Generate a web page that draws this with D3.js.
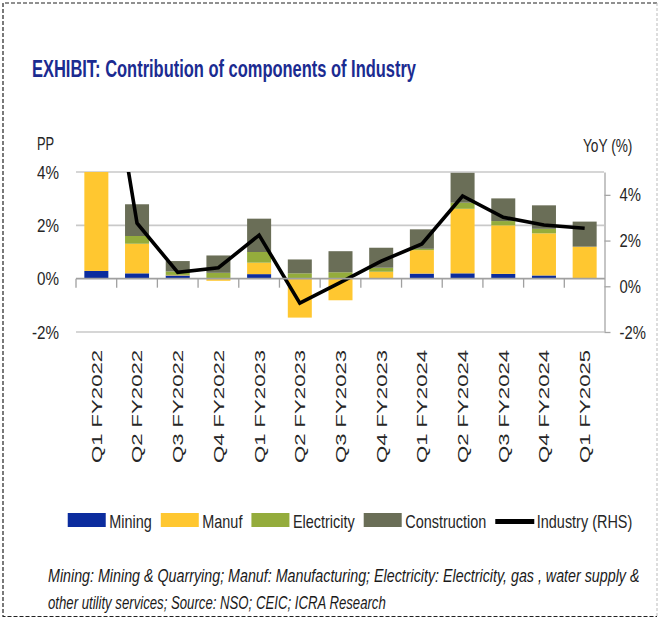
<!DOCTYPE html>
<html>
<head>
<meta charset="utf-8">
<script src="https://cdn.jsdelivr.net/npm/d3@7/dist/d3.min.js"></script>
<style>
  body { margin: 0; background: #fff; }
  svg text { font-family: "Liberation Sans", Arial, sans-serif; fill: #262626; }
</style>
</head>
<body>
<div id="chart"></div>
<script>

// data (pp contribution, left axis; industry YoY, right axis)
var quarters = ["Q1 FY2022", "Q2 FY2022", "Q3 FY2022", "Q4 FY2022", "Q1 FY2023", "Q2 FY2023", "Q3 FY2023",
    "Q4 FY2023", "Q1 FY2024", "Q2 FY2024", "Q3 FY2024", "Q4 FY2024", "Q1 FY2025"];
var mining       = [0.29, 0.20, 0.12, 0.00, 0.17, 0.00, 0.00, 0.02, 0.19, 0.20, 0.18, 0.12, 0.00];
var manuf        = [9.00, 1.11, 0.02, -0.08, 0.43, -1.46, -0.81, 0.24, 0.88, 2.42, 1.82, 1.58, 1.20];
var electricity  = [0.60, 0.29, 0.13, 0.22, 0.40, 0.20, 0.24, 0.15, 0.05, 0.23, 0.16, 0.17, 0.00];
var construction = [3.60, 1.19, 0.39, 0.65, 1.25, 0.52, 0.79, 0.75, 0.73, 1.12, 0.85, 0.88, 0.94];
var industry     = [13.5, 2.76, 0.61, 0.81, 2.24, -0.74, 0.17, 1.10, 1.85, 3.95, 3.02, 2.68, 2.54];

var leftTicks = [-2, 0, 2, 4];
var rightTicks = [-2, 0, 2, 4];

var seriesNames = ["Mining", "Manuf", "Electricity", "Construction"];
var seriesColors = ["#0b2c9e", "#ffc730", "#94ac3c", "#6a6e57"];

var title = "EXHIBIT: Contribution of components of Industry";
var notes = ["Mining: Mining & Quarrying; Manuf: Manufacturing; Electricity: Electricity, gas , water supply &",
    "other utility services; Source: NSO; CEIC; ICRA Research"];

var W = 662, H = 619;
var plot = { left: 76, right: 605, top: 172, bottom: 332 };

// the exhibit uses a narrow face; squeeze the regular one to its width
function condense(sel, k) {
    sel.each(function () {
        var w = this.getComputedTextLength();
        d3.select(this).attr('textLength', w * k).attr('lengthAdjust', 'spacingAndGlyphs');
    });
}

var svg = d3.select('#chart')
    .append('svg')
    .attr('width', W)
    .attr('height', H);

// dashed frame
svg.append('path')
    .attr('d', `M657,3 H3 V616.5 H657`)
    .attr('fill', 'none')
    .attr('stroke', '#222')
    .attr('stroke-width', 1.2)
    .attr('stroke-dasharray', '4,2');
svg.append('line')
    .attr('x1', 657).attr('x2', 657).attr('y1', 3).attr('y2', 616.5)
    .attr('stroke', '#bbb')
    .attr('stroke-dasharray', '3,2');

// title
svg.append('text')
    .attr('x', 32).attr('y', 77)
    .attr('font-size', 23)
    .attr('font-weight', 'bold')
    .attr('textLength', 384)
    .attr('lengthAdjust', 'spacingAndGlyphs')
    .style('fill', '#1b2b91')
    .text(title);

// scales
var x = d3.scaleBand()
    .domain(quarters)
    .range([plot.left, plot.right])
    .paddingInner(0.41)
    .paddingOuter(0.205);

var yL = d3.scaleLinear().domain([-2, 4]).range([plot.bottom, plot.top]);
var yR = d3.scaleLinear().domain([-2, 5]).range([plot.bottom, plot.top]);

// gridlines
svg.append('g').selectAll('line')
    .data(leftTicks.filter(d => d !== 0))
    .enter().append('line')
    .attr('x1', plot.left).attr('x2', plot.right - 1)
    .attr('y1', d => yL(d)).attr('y2', d => yL(d))
    .attr('stroke', '#c9c9c9')
    .attr('stroke-width', 1.6);

// stacked bars
var rows = quarters.map((q, i) => ({
    q: q, Mining: mining[i], Manuf: manuf[i], Electricity: electricity[i], Construction: construction[i]
}));
var stacked = d3.stack().keys(seriesNames).offset(d3.stackOffsetDiverging)(rows);

svg.append('clipPath').attr('id', 'clip')
    .append('rect')
    .attr('x', plot.left).attr('y', plot.top)
    .attr('width', plot.right - plot.left).attr('height', plot.bottom - plot.top);

var body = svg.append('g').attr('clip-path', 'url(#clip)');

body.selectAll('g.layer')
    .data(stacked)
    .enter().append('g')
    .attr('class', 'layer')
    .attr('fill', (d, i) => seriesColors[i])
    .selectAll('rect')
    .data(d => d)
    .enter().append('rect')
    .attr('x', d => x(d.data.q))
    .attr('width', x.bandwidth())
    .attr('y', d => yL(Math.max(d[0], d[1])))
    .attr('height', d => Math.abs(yL(d[0]) - yL(d[1])));

// zero axis with ticks between categories
var half = (x.step() - x.bandwidth()) / 2;
svg.append('line')
    .attr('x1', plot.left).attr('x2', plot.right)
    .attr('y1', yL(0)).attr('y2', yL(0))
    .attr('stroke', '#a0a0a0')
    .attr('stroke-width', 1.6);
svg.append('g').selectAll('line')
    .data(quarters)
    .enter().append('line')
    .attr('x1', d => x(d) - half).attr('x2', d => x(d) - half)
    .attr('y1', yL(0)).attr('y2', yL(0) + 9)
    .attr('stroke', '#a0a0a0')
    .attr('stroke-width', 1.3);

// industry line (RHS)
var line = d3.line()
    .x((d, i) => x(quarters[i]) + x.bandwidth() / 2)
    .y(d => yR(d));

body.append('path')
    .datum(industry)
    .attr('d', line)
    .attr('fill', 'none')
    .attr('stroke', '#000')
    .attr('stroke-width', 3.6);

// left axis
var leftAxis = svg.append('g')
    .attr('transform', `translate(${plot.left},0)`)
    .call(d3.axisLeft(yL).tickValues(leftTicks).tickSize(0).tickPadding(17).tickFormat(d => d + '%'));
leftAxis.select('.domain').remove();
leftAxis.selectAll('text').attr('font-size', 19).style('font-family', null).call(condense, 0.8);

// right axis
var rightAxis = svg.append('g')
    .attr('transform', `translate(${plot.right - 0.5},0)`)
    .call(d3.axisRight(yR).tickValues(rightTicks).tickSize(6).tickSizeOuter(0).tickPadding(9).tickFormat(d => d + '%'));
rightAxis.select('.domain').attr('stroke', '#a6a6a6').attr('stroke-width', 1.3);
rightAxis.selectAll('line').attr('stroke', '#a6a6a6').attr('stroke-width', 1.3);
rightAxis.selectAll('text').attr('font-size', 19).style('font-family', null).call(condense, 0.78);

// axis titles
svg.append('text').attr('x', 37).attr('y', 150).attr('font-size', 19).text('PP').call(condense, 0.68);
svg.append('text').attr('x', 583).attr('y', 152).attr('font-size', 19).text('YoY (%)').call(condense, 0.72);

// category labels
svg.append('g').selectAll('text')
    .data(quarters)
    .enter().append('text')
    .attr('transform', d => `translate(${x(d) + x.bandwidth() / 2},463) rotate(-90)`)
    .attr('dy', '0.36em')
    .attr('font-size', 15)
    .attr('textLength', 113)
    .attr('lengthAdjust', 'spacingAndGlyphs')
    .text(d => d);

// legend
var legendItems = seriesNames.map((n, i) => ({ name: n, color: seriesColors[i], type: 'rect' }))
    .concat([{ name: 'Industry (RHS)', color: '#000', type: 'line' }]);

var legend = svg.append('g');
var lx = 0;
legendItems.forEach(function (it) {
    var g = legend.append('g').attr('transform', `translate(${lx},0)`);
    if (it.type === 'rect') {
        g.append('rect').attr('x', 0).attr('y', -9).attr('width', 38).attr('height', 14).attr('fill', it.color);
    } else {
        g.append('line').attr('x1', 0).attr('x2', 39).attr('y1', -0.5).attr('y2', -0.5)
            .attr('stroke', it.color).attr('stroke-width', 5);
    }
    var t = g.append('text').attr('x', 41.5).attr('y', 6).attr('font-size', 19).text(it.name);
    condense(t, 0.76);
    lx += 41.5 + +t.attr('textLength') + 9;
});
lx -= 9;
legend.attr('transform', `translate(${350 - lx / 2},522)`);

// footnote, squeezed horizontally to the exhibit's line widths
var noteWidths = [592, 338];
notes.forEach(function (n, i) {
    var g = svg.append('g');
    var t = g.append('text')
        .attr('font-size', 18).attr('font-style', 'italic')
        .style('fill', '#1a1a1a')
        .text(n);
    var k = noteWidths[i] / t.node().getComputedTextLength();
    g.attr('transform', `translate(48,${582 + i * 27}) scale(${k},1)`);
});

</script>
</body>
</html>
